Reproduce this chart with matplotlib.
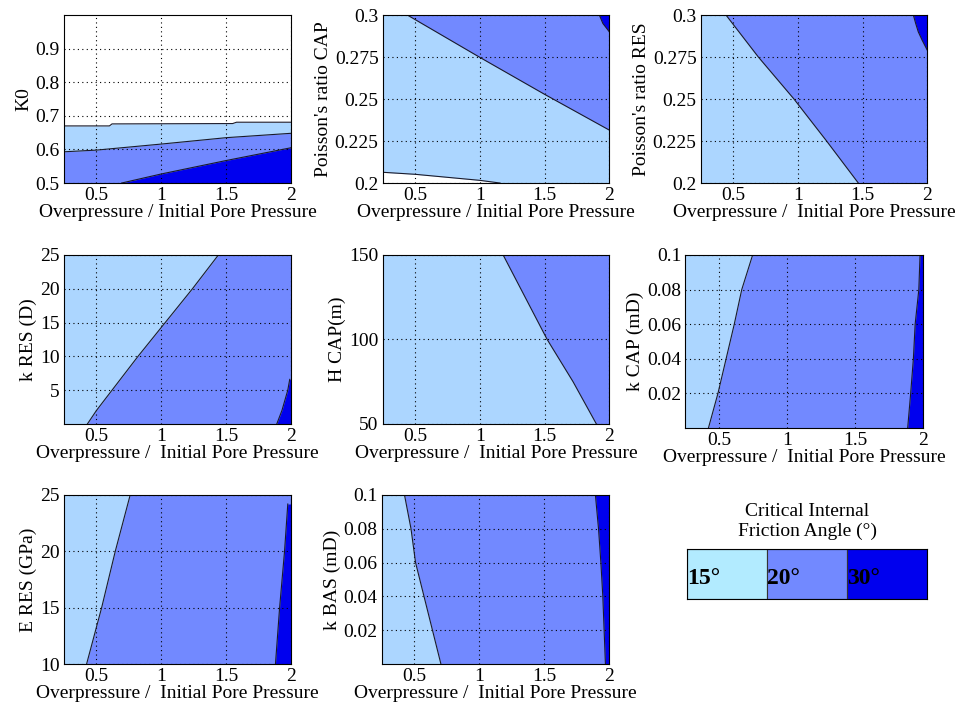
import matplotlib
matplotlib.use("Agg")
import matplotlib.pyplot as plt
import numpy as np

plt.rcParams['font.family'] = ['Liberation Serif', 'DejaVu Serif']
plt.rcParams['font.size'] = 14

LIGHT = '#acd6ff'
MED = '#7289ff'
DARK = '#0000ee'
LEG_LIGHT = '#b2ebff'
EDGE = '#1a1a2a'

XLABEL1 = 'Overpressure / Initial Pore Pressure'
XLABEL2 = 'Overpressure /  Initial Pore Pressure'
XTICKS = [0.5, 1, 1.5, 2]
XTICKLABELS = ['0.5', '1', '1.5', '2']

# ---- data (boundaries between friction-angle zones) ----
# K0 panel: boundaries as y(x)
k0_top_x = [0.25, 0.6, 0.62, 1.55, 1.58, 2.0]
k0_top_y = [0.670, 0.670, 0.676, 0.677, 0.681, 0.681]
k0_lm_x = [0.25, 0.5, 1.0, 1.5, 2.0]
k0_lm_y = [0.593, 0.598, 0.616, 0.635, 0.648]
k0_md_x = [0.694, 1.0, 1.5, 2.0]
k0_md_y = [0.5, 0.527, 0.567, 0.605]

# Poisson's ratio CAP: boundaries as y(x)
pc_lm_x = [0.44, 1.0, 1.5, 2.0]
pc_lm_y = [0.3, 0.2748, 0.2528, 0.2315]
pc_white_x = [0.25, 0.5, 1.0, 1.156]
pc_white_y = [0.2064, 0.2052, 0.2016, 0.2]
pc_dark_y = [0.290, 0.295, 0.3]
pc_dark_x = [2.0, 1.95, 1.923]

# Poisson's ratio RES: boundaries as x(y)
pr_lm_y = [0.2, 0.225, 0.25, 0.275, 0.3]
pr_lm_x = [1.467, 1.222, 0.97, 0.695, 0.445]
pr_dark_y = [0.279, 0.285, 0.29, 0.295, 0.3]
pr_dark_x = [2.0, 1.96, 1.93, 1.91, 1.892]

# k RES: boundaries as x(y)
kr_lm_y = [0, 2, 5, 10, 15, 20, 25]
kr_lm_x = [0.43, 0.5, 0.62, 0.82, 1.03, 1.24, 1.44]
kr_dark_y = [0, 1, 2, 3, 4, 5, 6.6]
kr_dark_x = [1.89, 1.91, 1.93, 1.945, 1.96, 1.975, 1.99]

# H CAP: boundaries as x(y)
hc_lm_y = [50, 75, 100, 125, 150]
hc_lm_x = [1.9, 1.72, 1.52, 1.35, 1.18]

# k CAP: boundaries as x(y)
kc_lm_y = [0, 0.02, 0.04, 0.06, 0.08, 0.1]
kc_lm_x = [0.42, 0.49, 0.55, 0.61, 0.665, 0.745]
kc_dark_y = [0, 0.02, 0.04, 0.06, 0.08, 0.1]
kc_dark_x = [1.885, 1.907, 1.927, 1.94, 1.967, 1.976]

# E RES: boundaries as x(y)
er_lm_y = [10, 15, 20, 25]
er_lm_x = [0.424, 0.54, 0.645, 0.76]
er_dark_y = [10, 15, 20, 24.2]
er_dark_x = [1.88, 1.912, 1.95, 1.975]

# k BAS: boundaries as x(y)
kb_lm_y = [0, 0.02, 0.04, 0.06, 0.08, 0.1]
kb_lm_x = [0.705, 0.64, 0.575, 0.51, 0.475, 0.425]
kb_dark_y = [0, 0.02, 0.04, 0.06, 0.08, 0.1]
kb_dark_x = [1.97, 1.96, 1.95, 1.935, 1.917, 1.893]

legend_labels = ['15°', '20°', '30°']

fig = plt.figure(figsize=(9.57, 7.15), dpi=100)


def make_ax(rect, ylim, yticks, ylabel, xlabel, ytl=None):
    ax = fig.add_axes(rect)
    ax.set_xlim(0.25, 2)
    ax.set_ylim(*ylim)
    ax.set_xticks(XTICKS)
    ax.set_xticklabels(XTICKLABELS)
    ax.set_yticks(yticks)
    if ytl is not None:
        ax.set_yticklabels(ytl)
    ax.set_ylabel(ylabel, labelpad=2)
    ax.set_xlabel(xlabel, labelpad=0)
    ax.tick_params(direction='in', length=0, pad=3, labelsize=14)
    ax.grid(True, color='k', linestyle=(0, (1, 3)), linewidth=0.8, zorder=5)
    ax.set_axisbelow(False)
    for s in ax.spines.values():
        s.set_linewidth(0.8)
        s.set_zorder(6)
    return ax


def line(ax, x, y):
    ax.plot(x, y, color=EDGE, linewidth=0.8, zorder=3)


# row 1
ax = make_ax([0.0669, 0.744, 0.2372, 0.235], (0.5, 1.0), [0.5, 0.6, 0.7, 0.8, 0.9], 'K0', XLABEL1)
ax.set_facecolor('white')
ax.fill_between(k0_top_x, 0.5, k0_top_y, color=LIGHT, linewidth=0, zorder=1)
ax.fill_between(k0_lm_x, 0.5, k0_lm_y, color=MED, linewidth=0, zorder=1.5)
ax.fill_between(k0_md_x, 0.5, k0_md_y, color=DARK, linewidth=0, zorder=2)
line(ax, k0_top_x, k0_top_y)
line(ax, k0_lm_x, k0_lm_y)
line(ax, k0_md_x, k0_md_y)

ax = make_ax([0.3999, 0.744, 0.2368, 0.235], (0.2, 0.3), [0.2, 0.225, 0.25, 0.275, 0.3],
             "Poisson's ratio CAP", XLABEL1, ['0.2', '0.225', '0.25', '0.275', '0.3'])
ax.set_facecolor(LIGHT)
ax.fill_between(pc_lm_x, pc_lm_y, 0.3, color=MED, linewidth=0, zorder=1)
ax.fill_betweenx(pc_dark_y, pc_dark_x, 2.0, color=DARK, linewidth=0, zorder=2)
ax.fill_between(pc_white_x, 0.2, pc_white_y, color='white', linewidth=0, zorder=1)
line(ax, pc_lm_x, pc_lm_y)
line(ax, pc_white_x, pc_white_y)
line(ax, pc_dark_x, pc_dark_y)

ax = make_ax([0.7322, 0.744, 0.2368, 0.235], (0.2, 0.3), [0.2, 0.225, 0.25, 0.275, 0.3],
             "Poisson's ratio RES", XLABEL2, ['0.2', '0.225', '0.25', '0.275', '0.3'])
ax.set_facecolor(LIGHT)
ax.fill_betweenx(pr_lm_y, pr_lm_x, 2.0, color=MED, linewidth=0, zorder=1)
ax.fill_betweenx(pr_dark_y, pr_dark_x, 2.0, color=DARK, linewidth=0, zorder=2)
line(ax, pr_lm_x, pr_lm_y)
line(ax, pr_dark_x, pr_dark_y)

# row 2
ax = make_ax([0.0669, 0.407, 0.2372, 0.2364], (0, 25), [5, 10, 15, 20, 25], 'k RES (D)', XLABEL2)
ax.set_facecolor(LIGHT)
ax.fill_betweenx(kr_lm_y, kr_lm_x, 2.0, color=MED, linewidth=0, zorder=1)
ax.fill_betweenx(kr_dark_y, kr_dark_x, 2.0, color=DARK, linewidth=0, zorder=2)
line(ax, kr_lm_x, kr_lm_y)
line(ax, kr_dark_x, kr_dark_y)

ax = make_ax([0.3999, 0.407, 0.2368, 0.2364], (50, 150), [50, 100, 150], 'H CAP(m)', XLABEL2)
ax.set_facecolor(LIGHT)
ax.fill_betweenx(hc_lm_y, hc_lm_x, 2.0, color=MED, linewidth=0, zorder=1)
line(ax, hc_lm_x, hc_lm_y)

ax = make_ax([0.7161, 0.4014, 0.2487, 0.242], (0, 0.1), [0.02, 0.04, 0.06, 0.08, 0.1],
             'k CAP (mD)', XLABEL2, ['0.02', '0.04', '0.06', '0.08', '0.1'])
ax.set_facecolor(LIGHT)
ax.fill_betweenx(kc_lm_y, kc_lm_x, 2.0, color=MED, linewidth=0, zorder=1)
ax.fill_betweenx(kc_dark_y, kc_dark_x, 2.0, color=DARK, linewidth=0, zorder=2)
line(ax, kc_lm_x, kc_lm_y)
line(ax, kc_dark_x, kc_dark_y)

# row 3
ax = make_ax([0.0669, 0.0713, 0.2372, 0.2364], (10, 25), [10, 15, 20, 25], 'E RES (GPa)', XLABEL2)
ax.set_facecolor(LIGHT)
ax.fill_betweenx(er_lm_y, er_lm_x, 2.0, color=MED, linewidth=0, zorder=1)
ax.fill_betweenx(er_dark_y, er_dark_x, 2.0, color=DARK, linewidth=0, zorder=2)
line(ax, er_lm_x, er_lm_y)
line(ax, er_dark_x, er_dark_y)

ax = make_ax([0.3989, 0.0713, 0.2378, 0.2364], (0, 0.1), [0.02, 0.04, 0.06, 0.08, 0.1],
             'k BAS (mD)', XLABEL2, ['0.02', '0.04', '0.06', '0.08', '0.1'])
ax.set_facecolor(LIGHT)
ax.fill_betweenx(kb_lm_y, kb_lm_x, 2.0, color=MED, linewidth=0, zorder=1)
ax.fill_betweenx(kb_dark_y, kb_dark_x, 2.0, color=DARK, linewidth=0, zorder=2)
line(ax, kb_lm_x, kb_lm_y)
line(ax, kb_dark_x, kb_dark_y)

# legend box
lax = fig.add_axes([0.7182, 0.1618, 0.2502, 0.0699])
lax.set_xlim(0, 3)
lax.set_ylim(0, 1)
lax.bar([0, 1, 2], [1, 1, 1], width=1, align='edge',
        color=[LEG_LIGHT, MED, DARK], edgecolor='#333333', linewidth=0.8)
for i, lab in enumerate(legend_labels):
    lax.text(i + 0.0, 0.42, lab, fontsize=17, fontweight='bold', ha='left', va='center')
lax.set_xticks([])
lax.set_yticks([])
for s in lax.spines.values():
    s.set_linewidth(0.8)
lax.set_title('Critical Internal\nFriction Angle (°)', fontsize=14, pad=10, linespacing=1.15)

fig.savefig('out.png', dpi=100)
